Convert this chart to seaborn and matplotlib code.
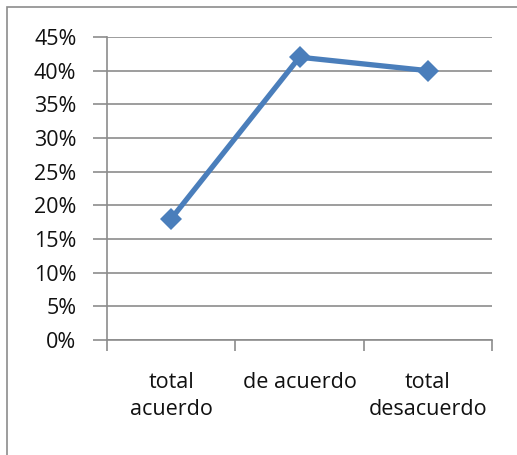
import matplotlib
matplotlib.use("Agg")
import matplotlib.pyplot as plt
import matplotlib.ticker as mticker
from matplotlib.patches import Rectangle
import pandas as pd
import seaborn as sns

categories = ["total\nacuerdo", "de acuerdo", "total\ndesacuerdo"]
values = [0.18, 0.42, 0.40]
y_ticks = [0, 0.05, 0.10, 0.15, 0.20, 0.25, 0.30, 0.35, 0.40, 0.45]

df = pd.DataFrame({"categoria": categories, "valor": values})

sns.set_style("white")
plt.rcParams["font.family"] = ["Open Sans", "DejaVu Sans"]

W, H = 517, 455
fig = plt.figure(figsize=(W / 100, H / 100), dpi=100)
fig.patches.append(Rectangle((7 / W, -0.1), 1.2, 1 - 7 / H + 0.1,
                             transform=fig.transFigure, fill=False,
                             edgecolor="#8c8c8c", linewidth=1.2))
ax = fig.add_axes([107 / W, 1 - 340 / H, (492 - 107) / W, (340 - 37) / H])

sns.lineplot(data=df, x="categoria", y="valor", ax=ax, color="#4a7ebb",
             linewidth=3.8, marker="D", markersize=11, markeredgewidth=0,
             sort=False)

ax.set_xlim(-0.5, 2.5)
ax.set_ylim(0, 0.45)
ax.set_yticks(y_ticks)
ax.yaxis.set_major_formatter(mticker.PercentFormatter(1.0, decimals=0))
ax.set_xticks(range(len(categories)))
ax.set_xticklabels(categories, linespacing=1.35)
ax.set_xticks([-0.5, 0.5, 1.5, 2.5], minor=True)
ax.grid(axis="y", color="#8c8c8c", linewidth=1.2)
ax.set_axisbelow(True)
for side in ["top", "right"]:
    ax.spines[side].set_visible(False)
for side in ["left", "bottom"]:
    ax.spines[side].set_color("#8c8c8c")
    ax.spines[side].set_linewidth(1.2)
ax.tick_params(axis="x", which="major", length=0, pad=23, labelsize=15.5,
               labelcolor="#111111")
ax.tick_params(axis="x", which="minor", length=8, width=1.2, color="#8c8c8c",
               direction="out", bottom=True)
ax.tick_params(axis="y", length=10, width=1.2, color="#8c8c8c",
               direction="out", left=True, labelsize=15.5, labelcolor="#111111",
               pad=12)
ax.set_xlabel("")
ax.set_ylabel("")

fig.savefig("out.png", dpi=100)
